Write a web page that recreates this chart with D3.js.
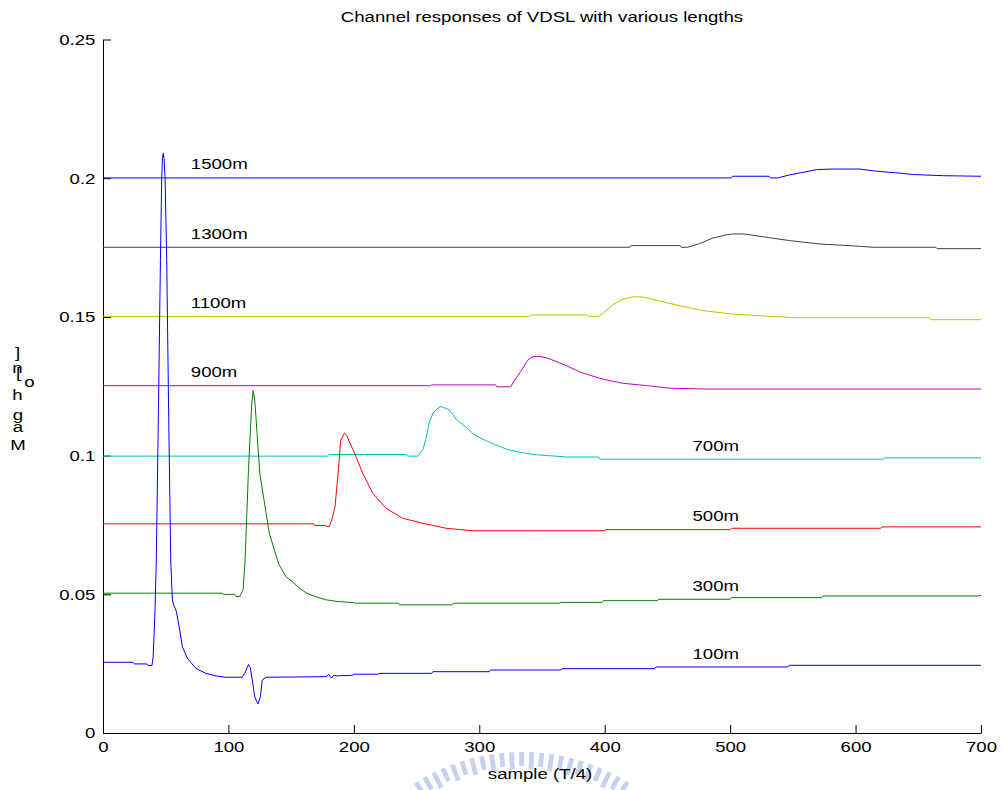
<!DOCTYPE html>
<html>
<head>
<meta charset="utf-8">
<script src="https://cdn.jsdelivr.net/npm/d3@7"></script>
<style>
body { margin: 0; background: #fff; }
svg { display: block; }
text { font-family: "Liberation Sans", Arial, Helvetica, sans-serif; font-size: 15.5px; fill: #000; }
</style>
</head>
<body>
<svg width="1002" height="790"></svg>
<script>
// cable lengths and MATLAB default line colours
const lengths = ["100m", "300m", "500m", "700m", "900m", "1100m", "1300m", "1500m"];
const colors = ["#0000ff", "#008000", "#ff0000", "#00bfbf", "#bf00bf", "#bfbf00", "#404040", "#0000ff"];

// sample index (T/4) and magnitude
const s100 = [0,24,25,35,36,39,40,41.5,42.5,44,45.8,46.8,47.4,48,48.7,49.5,50.8,52.5,54,55.3,56.5,58.5,60.7,63.3,67.3,74,82,90,97,111,113,116,117.5,119,121,123.5,125.5,127,130,178,180,182,184,186,199,200,219,220,262,263,308,309,365,366,440,441,546,547,700];
const v100 = [0.0255,0.0255,0.0249,0.0249,0.0243,0.0243,0.0275,0.0444,0.0624,0.11,0.1706,0.2,0.207,0.209,0.207,0.2,0.1706,0.11,0.0624,0.048,0.046,0.0438,0.0383,0.0311,0.0269,0.0233,0.0215,0.0206,0.0201,0.0201,0.0215,0.0247,0.0235,0.0191,0.013,0.0105,0.013,0.0191,0.0201,0.0203,0.0212,0.0198,0.0208,0.0206,0.0208,0.0212,0.0212,0.0215,0.0215,0.0221,0.0221,0.0227,0.0227,0.0232,0.0232,0.0238,0.0238,0.0244,0.0244];

const s300 = [0,95,95.5,105,106,109,111.7,113.3,116,118.5,119.7,121,125,132.5,140,145.8,151,155,162,169,178,187,200,201,235,237,278,280,364,365,398,399,442,443,500,501,573,574,698,700];
const v300 = [0.0504,0.0504,0.05,0.05,0.0492,0.0492,0.0516,0.0624,0.095,0.118,0.1234,0.12,0.0937,0.0721,0.061,0.0564,0.0545,0.0528,0.0505,0.0492,0.048,0.0474,0.047,0.0468,0.0468,0.0462,0.0462,0.0468,0.0468,0.0471,0.0471,0.0477,0.0477,0.0482,0.0482,0.0488,0.0488,0.0494,0.0494,0.0497];

const s500 = [0,168,169,177,179,180.4,182.5,185,187.5,189.5,192.5,194.5,196.5,200,207,215,225.6,239,255,273.5,295,340,400,401,500,501,620,621,700];
const v500 = [0.0754,0.0754,0.0748,0.0748,0.0744,0.0744,0.077,0.0816,0.094,0.1055,0.1081,0.1072,0.1048,0.1015,0.0937,0.0865,0.081,0.0774,0.0756,0.0738,0.0729,0.0729,0.0729,0.0733,0.0733,0.0738,0.0738,0.0743,0.0743];

const s700 = [0,179,180,242,243,251,255,258,260,263,267,269.5,276,282,289.5,296,300,309.5,323,340,345.5,370,395,396,622,623,700];
const v700 = [0.0998,0.0998,0.1004,0.1004,0.0998,0.0998,0.1021,0.107,0.1117,0.1153,0.1171,0.1177,0.1165,0.1129,0.1102,0.1075,0.1066,0.1045,0.1021,0.1006,0.1003,0.0995,0.0995,0.0987,0.0987,0.0992,0.0992];

const s900 = [0,261,262,313,314,325,327.5,333,338.5,342,346,350,356.5,367.5,381,398,414,434,452,480,700];
const v900 = [0.1252,0.1252,0.1255,0.1255,0.1248,0.1248,0.1267,0.1303,0.1343,0.1355,0.1358,0.1356,0.1348,0.1328,0.13,0.1276,0.1261,0.1252,0.1243,0.124,0.124];

const s1100 = [0,340,341,386,387,395,398,406.5,414.5,422,430,441,460,478,500,523.6,553,659,660,700];
const v1100 = [0.1502,0.1502,0.1507,0.1507,0.1502,0.1502,0.1511,0.1544,0.1564,0.1572,0.1572,0.156,0.154,0.1523,0.1511,0.1504,0.1497,0.1497,0.149,0.149];

const s1300 = [0,420,421,460,461,466,475.7,486,497,502,511,529,547.5,571,598,614,664,665,700];
const v1300 = [0.1751,0.1751,0.1757,0.1757,0.1751,0.1751,0.1764,0.1784,0.1796,0.1799,0.1799,0.1787,0.1775,0.1763,0.1756,0.1751,0.1751,0.1746,0.1746];

const s1500 = [0,501,502,531,532,538,547.5,558,569,582,603,616.7,631,647,670,700];
const v1500 = [0.2001,0.2001,0.2007,0.2007,0.2001,0.2001,0.2012,0.2021,0.2031,0.2033,0.2033,0.2025,0.202,0.2013,0.2009,0.2007];

const samples = [s100, s300, s500, s700, s900, s1100, s1300, s1500];
const values = [v100, v300, v500, v700, v900, v1100, v1300, v1500];
// sample where each length label sits
const labelAt = [470, 470, 470, 470, 70, 70, 70, 70];

const xTicks = [0, 100, 200, 300, 400, 500, 600, 700];
const yTicks = [0, 0.05, 0.1, 0.15, 0.2, 0.25];

var svg = d3.select("svg");
var x = d3.scaleLinear().domain([0, 700]).range([103, 981]);
var y = d3.scaleLinear().domain([0, 0.25]).range([733, 39.5]);
var stretch = "scale(1.2,1)";   // the figure was widened, text included

// faint watermark behind the x label
var wm = svg.append("g").attr("fill", "#b4c2ee").attr("opacity", 0.75);
d3.range(-32, 32.1, 2.9).forEach(function (a, i) {
    wm.append("rect")
        .attr("x", -2.4).attr("y", -200)
        .attr("width", 4.8).attr("height", i % 2 ? 14 : 17)
        .attr("transform", "translate(522,952) rotate(" + a + ")");
});

// axes, ticks pointing inward like MATLAB
var gx = svg.append("g")
    .attr("transform", "translate(0,733)")
    .call(d3.axisBottom(x).tickValues(xTicks).tickSize(-8).tickSizeOuter(0).tickPadding(8));
gx.selectAll("text").attr("transform", stretch);

var gy = svg.append("g")
    .attr("transform", "translate(103,0)")
    .call(d3.axisLeft(y).tickValues(yTicks).tickSize(-8).tickSizeOuter(0).tickPadding(6.3)
        .tickFormat(function (d) { return d; }));
gy.selectAll("text").attr("transform", stretch);

// curves
var line = d3.line()
    .x(function (d) { return x(d[0]); })
    .y(function (d) { return y(d[1]); });

for (var k = lengths.length - 1; k >= 0; k--) {
    var pts = samples[k].map(function (s, i) { return [s, values[k][i]]; });
    svg.append("path")
        .datum(pts)
        .attr("fill", "none")
        .attr("stroke", colors[k])
        .attr("stroke-width", 1)
        .attr("d", line);
}

// length labels, just above the curve
function valueAt(k, s) {
    var xs = samples[k], vs = values[k];
    var i = d3.bisectRight(xs, s);
    if (i <= 0) return vs[0];
    if (i >= xs.length) return vs[vs.length - 1];
    var t = (s - xs[i - 1]) / (xs[i] - xs[i - 1]);
    return vs[i - 1] + t * (vs[i] - vs[i - 1]);
}

lengths.forEach(function (name, k) {
    svg.append("text")
        .attr("transform", "translate(" + x(labelAt[k]) + "," + y(valueAt(k, labelAt[k]) + 0.005) + ") " + stretch)
        .attr("dy", "0.35em")
        .text(name);
});

// title and x label
svg.append("text")
    .attr("transform", "translate(542,21.5) " + stretch)
    .attr("text-anchor", "middle")
    .text("Channel responses of VDSL with various lengths");

svg.append("text")
    .attr("transform", "translate(540,779) " + stretch)
    .attr("text-anchor", "middle")
    .text("sample (T/4)");

// y label came out as a pile of upright glyphs in the original
var glyphs = [["]", 17.5, 358], ["n", 17.5, 373], ["[", 18.5, 378], ["o", 29.5, 387],
              ["h", 17.5, 400], ["g", 18, 419.5], ["a", 18, 431.5], ["M", 18, 450]];
glyphs.forEach(function (g) {
    svg.append("text")
        .attr("transform", "translate(" + g[1] + "," + g[2] + ") " + stretch)
        .attr("text-anchor", "middle")
        .text(g[0]);
});
</script>
</body>
</html>
